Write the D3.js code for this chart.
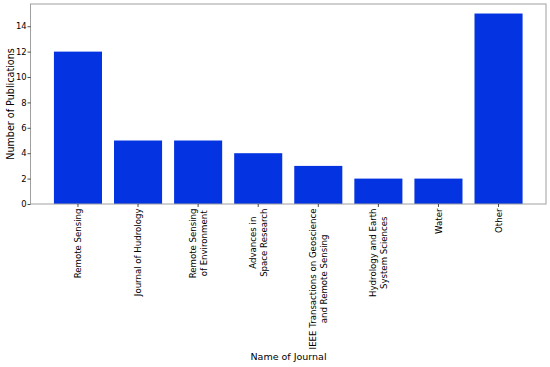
<!DOCTYPE html>
<html>
<head>
<meta charset="utf-8">
<script src="https://cdn.jsdelivr.net/npm/d3@7"></script>
<style>
  body { margin: 0; background: #fff; }
  text { font-family: "DejaVu Sans", sans-serif; fill: #000; }
</style>
</head>
<body>
<div id="chart"></div>
<script>
// The data
var journals = [
  ['Remote Sensing'],
  ['Journal of Hudrology'],
  ['Remote Sensing', 'of Environment'],
  ['Advances in', 'Space Research'],
  ['IEEE Transactions on Geoscience', 'and Remote Sensing'],
  ['Hydrology and Earth', 'System Sciences'],
  ['Water'],
  ['Other']
];
var counts = [12, 5, 5, 4, 3, 2, 2, 15];
var yTicks = [0, 2, 4, 6, 8, 10, 12, 14];

// Plot area (window.top is reserved, so use other names)
var W = 550, H = 367;
var plotLeft = 30.5, plotRight = 546, plotTop = 4, plotBottom = 204;

var svg = d3.select('#chart').append('svg')
    .attr('width', W)
    .attr('height', H);

// matplotlib style x limits: bars of width 0.8 plus 5% margins
var n = counts.length;
var x = d3.scaleLinear()
    .domain([-0.4 - 0.39, n - 1 + 0.4 + 0.39])
    .range([plotLeft, plotRight]);
var y = d3.scaleLinear()
    .domain([0, d3.max(counts) * 1.05])
    .range([plotBottom, plotTop]);

// bars
svg.selectAll('rect.bar')
    .data(counts)
    .enter()
  .append('rect')
    .attr('class', 'bar')
    .attr('x', function(d, i) { return x(i - 0.4); })
    .attr('y', function(d) { return y(d); })
    .attr('width', function(d, i) { return x(i + 0.4) - x(i - 0.4); })
    .attr('height', function(d) { return y(0) - y(d); })
    .style('fill', '#0433E1');

// frame
svg.append('rect')
    .attr('x', plotLeft)
    .attr('y', plotTop)
    .attr('width', plotRight - plotLeft)
    .attr('height', plotBottom - plotTop)
    .style('fill', 'none')
    .style('stroke', '#a0a0a0')
    .style('stroke-width', 1);

// y axis
var yAxis = d3.axisLeft(y).tickValues(yTicks).tickSize(3).tickPadding(0.8);
var gy = svg.append('g')
    .attr('transform', 'translate(' + plotLeft + ',0)')
    .call(yAxis);
gy.select('.domain').remove();
gy.selectAll('line').style('stroke', '#000').style('stroke-width', 0.7);
gy.selectAll('text').style('font-size', '8.4px').style('font-family', '"DejaVu Sans", sans-serif');

// x ticks
svg.append('g').selectAll('line')
    .data(counts)
    .enter()
  .append('line')
    .attr('x1', function(d, i) { return x(i); })
    .attr('x2', function(d, i) { return x(i); })
    .attr('y1', plotBottom)
    .attr('y2', plotBottom + 3)
    .style('stroke', '#000')
    .style('stroke-width', 0.7);

// rotated, multi-line x tick labels (centered lines)
var lh = 10.6;
var labelTop = plotBottom + 4.5;
journals.forEach(function(lines, i) {
  var g = svg.append('g');
  var texts = lines.map(function(l) {
    return g.append('text')
      .style('font-size', '8.6px')
      .attr('text-anchor', 'middle')
      .text(l);
  });
  var maxLen = d3.max(texts, function(t) { return t.node().getComputedTextLength(); });
  texts.forEach(function(t, j) {
    t.attr('x', 0)
     .attr('y', (j - (lines.length - 1) / 2) * lh + 3.1);
  });
  g.attr('transform', 'translate(' + x(i) + ',' + (labelTop + maxLen / 2) + ') rotate(-90)');
});

// axis titles
svg.append('text')
    .attr('x', 288.5)
    .attr('y', 360)
    .attr('text-anchor', 'middle')
    .style('font-size', '9.5px')
    .text('Name of Journal');

svg.append('text')
    .attr('transform', 'translate(13.5,' + ((plotTop + plotBottom) / 2) + ') rotate(-90)')
    .attr('text-anchor', 'middle')
    .style('font-size', '9.6px')
    .text('Number of Publications');
</script>
</body>
</html>
